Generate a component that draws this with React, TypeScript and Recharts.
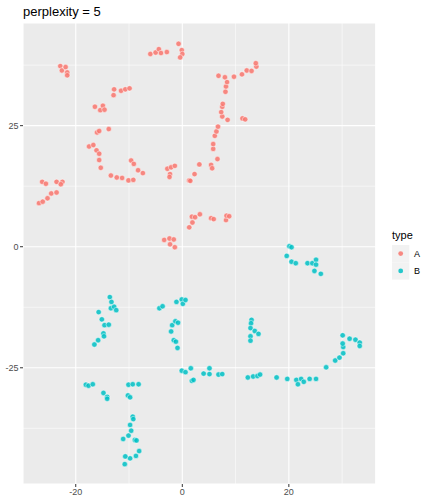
import React from "react"
import {
  ScatterChart, Scatter, XAxis, YAxis, CartesianGrid, ReferenceLine,
} from "recharts"

// t-SNE coordinates, one array per type
const typeA: [number, number][] = [
  [-6.0, 39.8], [-5.0, 40.1], [-4.4, 40.8], [-4.0, 40.0], [-2.9, 40.2], [-0.7, 41.9], [-0.1, 40.6], [0.0, 39.8], [-0.4, 39.1],
  [-22.9, 37.3], [-22.6, 36.4], [-21.9, 37.1], [-21.6, 36.0], [-21.6, 35.4],
  [-12.8, 32.5], [-12.9, 31.3], [-11.5, 32.2], [-10.7, 32.5], [-9.9, 32.7], [-16.4, 28.9], [-15.4, 28.2], [-14.9, 29.1], [-14.6, 28.3],
  [-16.0, 23.6], [-15.6, 23.9], [-13.8, 24.3], [-17.5, 20.7], [-16.7, 21.0], [-16.1, 19.9], [-15.6, 19.2], [-15.6, 17.9], [-15.3, 16.3],
  [-13.4, 14.7], [-12.3, 14.3], [-11.3, 14.2], [-10.1, 13.7], [-9.2, 13.8], [-9.6, 17.8], [-9.1, 17.1], [-8.3, 15.8], [-7.4, 15.2],
  [-26.9, 9.0], [-26.2, 9.3], [-25.3, 10.0], [-24.6, 11.0], [-23.6, 11.2], [-26.3, 13.4], [-25.6, 13.0], [-23.6, 13.4], [-22.5, 13.4], [-22.8, 12.9],
  [-2.8, 16.1], [-2.1, 16.4], [-1.4, 16.7], [-2.3, 15.0], [-2.4, 14.4],
  [1.3, 13.7], [1.5, 13.6], [2.3, 15.0], [3.2, 17.0], [5.4, 16.9], [5.6, 16.2], [6.6, 18.1], [5.8, 20.2], [5.8, 21.2], [6.1, 22.9],
  [6.4, 23.8], [6.7, 24.8], [7.5, 26.9], [7.3, 27.8], [7.5, 28.9], [7.6, 29.5], [8.5, 26.2], [8.1, 32.0], [8.2, 33.1], [8.4, 34.0],
  [8.0, 35.0], [6.8, 35.3], [9.7, 35.1], [11.2, 35.6], [12.1, 36.4], [13.0, 36.3], [13.9, 37.2], [13.8, 37.9], [11.3, 26.5], [11.8, 26.3],
  [-3.4, 1.4], [-2.4, 1.7], [-1.6, 1.5], [-2.3, 0.5], [-1.4, -0.1], [1.3, 4.0], [1.9, 5.0], [1.8, 6.2], [2.4, 6.1], [3.3, 6.7],
  [5.4, 5.9], [5.9, 5.7], [8.2, 5.5], [8.3, 6.4], [8.8, 6.3],
]

const typeB: [number, number][] = [
  [-13.6, -10.4], [-13.3, -11.4], [-13.4, -12.7], [-12.8, -12.4], [-12.4, -13.1], [-15.7, -13.5], [-15.1, -15.0], [-14.6, -16.2],
  [-13.8, -16.1], [-14.8, -17.9], [-14.7, -18.5], [-15.8, -19.3], [-16.5, -20.2],
  [-4.3, -12.7], [-3.7, -12.3], [-1.1, -11.4], [-0.1, -10.9], [0.1, -11.8], [0.6, -11.0], [-1.9, -16.2], [-1.3, -15.4], [-0.8, -15.7],
  [-2.1, -17.5], [-1.6, -19.3], [-1.2, -19.6], [-0.9, -20.9],
  [-18.1, -28.5], [-17.6, -28.7], [-16.8, -28.4], [-14.8, -30.2], [-14.1, -31.0], [-14.1, -31.4], [-10.1, -28.5], [-9.3, -28.4],
  [-8.2, -28.4], [-10.2, -30.7], [-9.8, -31.1], [-9.3, -35.1], [-9.2, -35.6], [-9.8, -36.8], [-9.6, -38.0], [-10.1, -39.0],
  [-11.1, -39.7], [-8.9, -39.9], [-8.6, -40.0], [-8.1, -42.2], [-8.7, -43.2], [-9.8, -43.7], [-10.7, -43.3], [-10.8, -44.9],
  [-0.1, -25.6], [0.6, -25.9], [1.6, -25.1], [1.8, -27.7], [2.1, -27.5], [4.0, -26.2], [5.1, -25.1], [5.1, -26.3], [6.8, -26.4], [7.5, -26.3],
  [20.1, 0.1], [20.5, -0.1], [19.6, -1.9], [20.5, -3.1], [21.3, -3.4], [23.5, -3.4], [24.4, -3.4], [25.1, -2.7], [25.1, -3.7],
  [24.8, -5.0], [26.0, -5.6],
  [13.0, -15.1], [12.9, -15.8], [12.8, -16.8], [13.6, -17.4], [14.3, -18.0], [12.8, -18.5], [12.8, -19.4],
  [12.3, -27.0], [13.3, -26.8], [14.1, -26.7], [14.6, -26.4], [17.7, -27.0], [19.7, -27.3], [21.4, -27.5], [21.7, -28.4],
  [22.3, -27.3], [22.8, -27.9], [23.9, -27.3], [25.1, -27.3], [27.0, -24.9], [28.7, -23.5], [29.5, -22.9], [30.2, -22.0],
  [30.2, -20.7], [30.1, -20.0], [30.1, -18.3], [31.4, -19.0], [32.5, -19.2], [33.3, -19.8], [33.3, -20.5],
]

const xTicks = [-20, 0, 20]
const yTicks = [-25, 0, 25]
const xMinor = [-10, 10, 30]
const yMinor = [-37.5, -12.5, 12.5, 37.5]
const types = ["A", "B"]

const COLORS: Record<string, string> = { A: "#F8766D", B: "#00BFC4" }
const FONT = "'Liberation Sans', Arial, sans-serif"

const toPoints = (pts: [number, number][]) => pts.map(([x, y]) => ({ x, y }))

function dot(color: string) {
  return (props: any) => (
    <circle
      cx={props.cx}
      cy={props.cy}
      r={2.7}
      fill={color}
      fillOpacity={0.85}
      stroke="#ffffff"
      strokeWidth={0.6}
      strokeOpacity={0.8}
    />
  )
}

// ggplot-style legend, drawn beside the panel
function TypeLegend() {
  return (
    <svg
      width={50}
      height={62}
      style={{ position: "absolute", left: 385, top: 225, fontFamily: FONT }}
    >
      <text x={7} y={14} fontSize={11} fill="#000">type</text>
      {types.map((t, i) => (
        <g key={t}>
          <rect x={7} y={20 + i * 17.3} width={17.3} height={17.3} fill="#F2F2F2" />
          <circle cx={15.7} cy={28.6 + i * 17.3} r={2.4} fill={COLORS[t]} fillOpacity={0.85} />
          <text x={29} y={31.8 + i * 17.3} fontSize={9} fill="#000">{t}</text>
        </g>
      ))}
    </svg>
  )
}

export default function App() {
  return (
    <div style={{ position: "absolute", left: 0, top: 0, width: 432, height: 504, background: "#fff" }}>
      <div
        style={{
          position: "absolute", left: 23, top: 4.5, fontFamily: FONT,
          fontSize: 13, lineHeight: "13px", color: "#000", whiteSpace: "nowrap",
        }}
      >
        perplexity = 5
      </div>
      <ScatterChart width={432} height={504} margin={{ top: 23, right: 56.3, bottom: 0, left: 0 }}>
        <CartesianGrid fill="#EBEBEB" fillOpacity={1} stroke="#ffffff" strokeWidth={1.1} />
        {xMinor.map((v) => (
          <ReferenceLine key={"x" + v} x={v} stroke="#ffffff" strokeWidth={0.55} />
        ))}
        {yMinor.map((v) => (
          <ReferenceLine key={"y" + v} y={v} stroke="#ffffff" strokeWidth={0.55} />
        ))}
        <XAxis
          type="number"
          dataKey="x"
          domain={[-29.9, 36.3]}
          ticks={xTicks}
          allowDataOverflow
          height={20}
          axisLine={false}
          tickSize={3}
          tickMargin={2}
          tickLine={{ stroke: "#333333", strokeWidth: 1 }}
          tick={{ fill: "#4D4D4D", fontSize: 9, fontFamily: FONT }}
        />
        <YAxis
          type="number"
          dataKey="y"
          domain={[-49.0, 46.2]}
          ticks={yTicks}
          allowDataOverflow
          width={23}
          axisLine={false}
          tickSize={3}
          tickMargin={1.5}
          tickLine={{ stroke: "#333333", strokeWidth: 1 }}
          tick={{ fill: "#4D4D4D", fontSize: 9, fontFamily: FONT }}
        />
        <Scatter name="A" data={toPoints(typeA)} shape={dot(COLORS.A)} isAnimationActive={false} />
        <Scatter name="B" data={toPoints(typeB)} shape={dot(COLORS.B)} isAnimationActive={false} />
      </ScatterChart>
      <TypeLegend />
    </div>
  )
}
